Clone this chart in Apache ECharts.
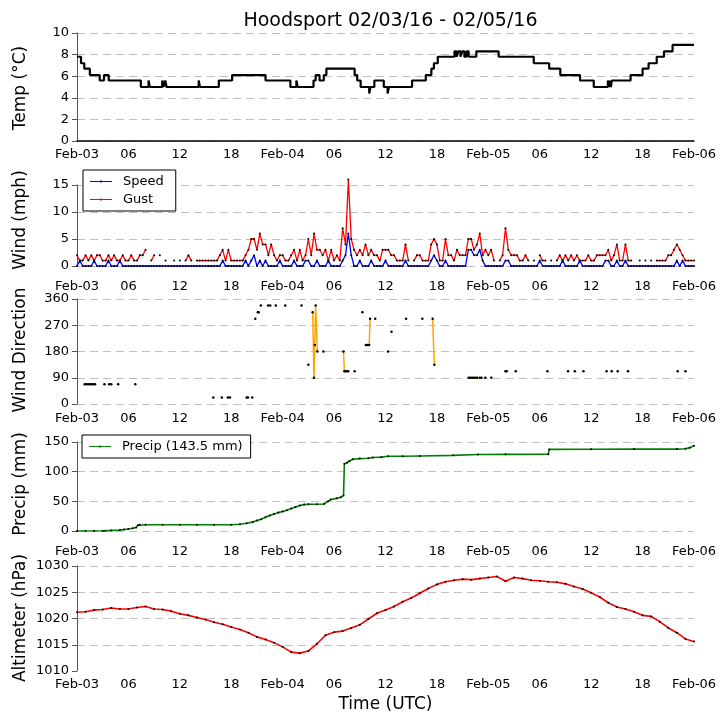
<!DOCTYPE html>
<html>
<head>
<meta charset="utf-8">
<script src="https://cdn.jsdelivr.net/npm/echarts@6/dist/echarts.min.js"></script>
<style>
html, body { margin: 0; padding: 0; background: #fff; }
#chart { width: 726px; height: 725px; }
</style>
</head>
<body>
<div id="chart"></div>
<script>
// hours since Feb-03 00:00 UTC
const xTickLabels = ['Feb-03', '06', '12', '18', 'Feb-04', '06', '12', '18', 'Feb-05', '06', '12', '18', 'Feb-06'];

// temperature change points (value holds until next point)
const tempHours = [0, 0.47, 0.85, 1.5, 2.65, 3.15, 3.7, 7.45, 8.35, 8.5, 9.95, 10.1, 10.3, 10.45, 14.2, 14.35,
    16.55, 18.1, 22.0, 24.9, 25.6, 25.75, 27.6, 27.85, 28.3, 28.8, 29.1, 32.4, 32.7, 33.1, 34.1, 34.25,
    34.7, 35.8, 36.25, 36.4, 39.1, 40.7, 41.35, 41.65, 42.1, 44.05, 44.3, 44.5, 44.75, 44.95, 45.2,
    45.45, 45.7, 46.6, 49.2, 53.3, 55.1, 56.4, 58.7, 60.3, 61.95, 62.1, 62.2, 62.3, 62.4, 64.6, 66.0,
    66.7, 67.65, 68.5, 69.5, 72];
const tempValues = [7.8, 7.2, 6.7, 6.1, 5.6, 6.1, 5.6, 5.0, 5.6, 5.0, 5.6, 5.0, 5.6, 5.0, 5.6, 5.0,
    5.6, 6.1, 5.6, 5.0, 5.6, 5.0, 5.6, 6.1, 5.6, 6.1, 6.7, 6.1, 5.6, 5.0, 4.4, 5.0,
    5.6, 5.0, 4.4, 5.0, 5.6, 6.1, 6.7, 7.2, 7.8, 8.3, 7.8, 8.3, 7.8, 8.3, 7.8,
    8.3, 7.8, 8.3, 7.8, 7.2, 6.7, 6.1, 5.6, 5.0, 5.6, 5.0, 5.6, 5.0, 5.6, 6.1, 6.7,
    7.2, 7.8, 8.3, 8.9, 8.9];

// wind, one reading every 20 minutes (null = missing)
const windStep = 1 / 3;
const windSpeed = [
    0, 1, 0, 0, 0, 0,  1, 0, 0, 0, 0, 1,  0, 0, 0, 1, 0, 0,  0, 0, 0, 0, 0, 0,
    0, 0, 0, 0, 0, 0,  0, 0, 0, 0, 0, 0,  0, 0, 0, 0, 0, 0,  0, 0, 0, 0, 0, 0,
    0, 0, 0, 1, 0, 0,  0, 0, 0, 0, 0, 1,  0, 1, 2, 0, 1, 0,  1, 0, 0, 0, 0, 1,
    0, 0, 0, 0, 1, 0,  0, 0, 1, 1, 0, 0,  1, 0, 0, 0, 1, 0,  0, 0, 0, 1, 2, 6,
    2, 0, 0, 1, 0, 0,  0, 1, 0, 0, 0, 0,  1, 0, 0, 0, 0, 0,  0, 1, 0, 0, 0, 0,
    0, 0, 0, 0, 1, 2,  1, 0, 0, 1, 0, 0,  0, 0, 0, 0, 0, 3,  3, 2, 2, 3, 1, 0,
    0, 0, 0, 0, 0, 0,  1, 1, 0, 0, 0, 0,  0, 0, 0, 0, 0, 0,  1, 0, 0, 0, 0, 0,
    0, 0, 1, 0, 0, 0,  0, 0, 1, 0, 0, 0,  0, 0, 0, 0, 0, 1,  1, 0, 0, 1, 0, 0,
    1, 0, 0, 0, 0, 0,  0, 0, 0, 0, 0, 0,  0, 0, 0, 0, 0, 0,  1, 0, 1, 0, 0, 0,
    0];
const windGust = [
    2, 1, 1, 2, 1, 2,  1, 2, 2, 1, 1, 2,  1, 2, 1, 1, 2, 1,  1, 2, 1, 1, 2, 2,
    3, null, 1, 2, null, 2,  null, 1, null, null, 1, null,  1, null, 1, 2, 1, null,  1, 1, 1, 1, 1, 1,
    1, 1, 2, 3, 1, 3,  1, 1, 1, 1, 1, 2,  3, 5, 5, 3, 6, 4,  4, 2, 4, 2, 1, 2,
    2, 1, 1, 2, 3, 1,  3, 1, 2, 5, 2, 6,  3, 3, 2, 3, 1, 3,  1, 2, 1, 7, 4, 16,
    5, 3, 2, 3, 2, 4,  2, 3, 2, 2, 1, 3,  3, 3, 2, 2, 1, 1,  1, 4, 1, null, 1, 2,
    2, 1, 1, 1, 4, 5,  4, 1, 1, 5, 2, 2,  1, 3, 2, 2, 2, 5,  5, 3, 4, 6, 2, 3,
    2, 3, 1, null, 1, 2,  7, 3, 2, 2, 2, 1,  1, 2, 1, null, 1, null,  2, 1, 1, null, 1, null,
    1, 2, 1, 2, 1, 2,  1, 2, 1, 1, 1, 2,  1, 1, 2, 2, 2, 2,  3, 1, 2, 4, 1, 1,
    4, 1, 1, null, null, 1,  null, 1, null, 1, null, 1,  1, 1, 1, 2, 2, 3,  4, 3, 2, 1, 1, 1,
    1];

// wind direction readings (null = break in the record)
const wdirHours = [0.9, 1.1, 1.3, 1.5, 1.7, 1.9, 2.1, null, 3.2, null, 3.75, null, 4.0, null, 4.8, null, 6.8, null,
    15.9, null, 16.9, null, 17.6, 17.85, null, 19.8, 19.95, null, 20.45, null, 20.8, null, 21.1, 21.2, null,
    21.45, null, 22.3, null, 22.55, null, 23.2, null, 24.3, null, 26.2, null, 27.0, null,
    27.5, 27.65, 27.75, 27.85, 28.05, null, 28.75, null, 31.1, 31.2, 31.35, 31.5, 31.65, null, 32.4, null,
    33.3, null, 33.7, 33.9, 34.1, 34.2, null, 34.8, null, 36.3, null, 36.7, null, 38.4, null, 40.3, null,
    41.5, 41.7, null, 45.7, 45.9, 46.1, 46.3, 46.5, 46.7, 47.0, 47.2, null, 47.65, null, 48.35, null,
    50.0, 50.15, null, 51.2, null, 54.9, null, 57.3, null, 58.1, null, 59.1, null, 61.8, null, 62.4, null,
    63.1, null, 64.3, null, 70.1, null, 71.0];
const wdirDeg = [67.5, 67.5, 67.5, 67.5, 67.5, 67.5, 67.5, null, 67.5, null, 67.5, null, 67.5, null, 67.5, null, 67.5, null,
    22.5, null, 22.5, null, 22.5, 22.5, null, 22.5, 22.5, null, 22.5, null, 292.5, null, 315, 315, null,
    337.5, null, 337.5, null, 337.5, null, 337.5, null, 337.5, null, 337.5, null, 135, null,
    315, 90, 202.5, 337.5, 180, null, 180, null, 180, 112.5, 112.5, 112.5, 112.5, null, 112.5, null,
    315, null, 202.5, 202.5, 202.5, 292.5, null, 292.5, null, 180, null, 247.5, null, 292.5, null, 292.5, null,
    292.5, 135, null, 90, 90, 90, 90, 90, 90, 90, 90, null, 90, null, 90, null,
    112.5, 112.5, null, 112.5, null, 112.5, null, 112.5, null, 112.5, null, 112.5, null, 112.5, null, 112.5, null,
    112.5, null, 112.5, null, 112.5, null, 112.5];

// accumulated precipitation
const precipHours = [0, 1, 2, 3, 3.3, 4, 5, 5.5, 6, 6.5, 6.9, 7.1, 7.3, 8, 10, 12, 14, 16, 18, 19, 19.8,
    20.5, 21, 21.5, 22, 22.5, 23, 23.5, 24, 24.5, 25, 25.5, 26, 26.5, 27, 28, 28.8, 29.3, 29.6, 30.3,
    30.8, 31.1, 31.2, 31.5, 31.8, 32.2, 33, 34, 34.5, 35.5, 36.3, 38, 40, 43.9, 46.8, 50, 55, 55.1, 60,
    65, 70, 71, 71.5, 72];
const precipValues = [0, 0, 0, 0, 0.5, 1, 1.5, 2.5, 3.5, 4.5, 6, 9.5, 10.5, 10.5, 10.5, 10.5, 10.5, 10.5, 10.5, 11.5, 13,
    15, 17.5, 20, 23, 26, 28.5, 31, 33, 35, 38, 40.5, 43, 44.5, 45, 45, 45.5, 50, 53, 55,
    57, 60, 113.5, 115, 118, 121, 122, 122.5, 124, 124.5, 126, 126, 126.5, 127.5, 129, 129.2, 129.5, 137.5, 137.8,
    138, 138, 138.5, 140.5, 143.5];

// altimeter, hourly from Feb-03 00 to Feb-06 00
const altValues = [1021.2, 1021.3, 1021.6, 1021.7, 1022.0, 1021.8, 1021.8, 1022.1, 1022.3, 1021.8, 1021.7, 1021.4,
    1020.9, 1020.6, 1020.2, 1019.8, 1019.3, 1018.9, 1018.4, 1017.9, 1017.3, 1016.5, 1016.0, 1015.4,
    1014.6, 1013.6, 1013.4, 1013.8, 1015.2, 1016.8, 1017.4, 1017.6, 1018.2, 1018.8, 1019.9, 1021.0,
    1021.6, 1022.3, 1023.2, 1023.9, 1024.8, 1025.7, 1026.5, 1027.0, 1027.3, 1027.5, 1027.4, 1027.6,
    1027.8, 1028.0, 1027.1, 1027.8, 1027.6, 1027.3, 1027.2, 1027.0, 1026.9, 1026.6, 1026.1, 1025.6,
    1024.9, 1024.1, 1023.0, 1022.2, 1021.8, 1021.3, 1020.6, 1020.4, 1019.4, 1018.2, 1017.3, 1016.1,
    1015.6];

const precipTotal = precipValues[precipValues.length - 1];
const precipName = 'Precip (' + precipTotal.toFixed(1) + ' mm)';

let pairs = function(xs, ys) {
    return xs.map((x, i) => (x === null || ys[i] === null) ? [NaN, '-'] : [x, ys[i]]);
}
let stepped = function(vals, step) {
    return vals.map((v, i) => [i * step, v === null ? '-' : v]);
}

const font = 'DejaVu Sans';

// one entry per panel: plot box (labelled range), y range and step, x label margin
const panels = [
    { top: 33, height: 108, min: 0, max: 10, step: 2, labelGap: 7, name: 'Temp (°C)', nameY: 88 },
    { top: 185, height: 81, min: 0, max: 15, step: 5, labelGap: 14, name: 'Wind (mph)', nameY: 220 },
    { top: 299, height: 105, min: 0, max: 360, step: 90, labelGap: 8, name: 'Wind Direction', nameY: 350 },
    { top: 442, height: 89, min: 0, max: 150, step: 50, labelGap: 14, name: 'Precip (mm)', nameY: 484 },
    { top: 566, height: 105, min: 1010, max: 1030, step: 5, labelGap: 7, name: 'Altimeter (hPa)', nameY: 618, plain: true },
];

const legendIcon = 'path://M0,0.4h24v1.2h-24z M11,0h2v2h-2z';

let yAxisFor = function(p, i) {
    const axis = {
        type: 'value',
        gridIndex: i,
        min: p.min,
        max: p.max,
        interval: p.step,
        axisLabel: { fontSize: 13, color: '#000', fontFamily: font },
        splitLine: { show: true, lineStyle: { type: [8, 5], color: '#c0c0c0' } },
    };
    if (p.plain) {
        // no thousands separator, and no grid line on the bottom edge
        axis.axisLabel.formatter = v => String(v);
        axis.splitLine.showMinLine = false;
    }
    return axis;
}

const chart = echarts.init(document.getElementById('chart'));

const option = {
    animation: false,
    title: {
        text: 'Hoodsport 02/03/16 - 02/05/16',
        left: 385.5,
        top: 7,
        textAlign: 'center',
        textStyle: { fontSize: 19, fontWeight: 'normal', color: '#000', fontFamily: font },
    },
    graphic: panels.map(p => ({
        type: 'text',
        x: 21,
        y: p.nameY,
        rotation: Math.PI / 2,
        silent: true,
        style: { text: p.name, fill: '#000', font: '17px "DejaVu Sans"', align: 'center', verticalAlign: 'middle' },
    })).concat([{
        type: 'text',
        x: 385.5,
        y: 705,
        silent: true,
        style: { text: 'Time (UTC)', fill: '#000', font: '17px "DejaVu Sans"', align: 'center', verticalAlign: 'middle' },
    }]),
    legend: [
        {
            data: [
                { name: 'Speed', icon: legendIcon, itemStyle: { color: '#0000ff' } },
                { name: 'Gust', icon: legendIcon, itemStyle: { color: '#ff0000' } },
            ],
            orient: 'vertical',
            left: 83,
            top: 170,
            padding: [5, 12, 5, 7],
            itemGap: 5,
            itemWidth: 22,
            itemHeight: 3,
            borderColor: '#000',
            borderWidth: 1,
            borderRadius: 0,
            backgroundColor: '#fff',
            textStyle: { fontSize: 13, color: '#000', fontFamily: font, padding: [0, 0, 0, 6] },
        },
        {
            data: [{ name: precipName, icon: legendIcon, itemStyle: { color: '#008000' } }],
            orient: 'vertical',
            left: 82,
            top: 435,
            padding: [5, 8, 5, 7],
            itemWidth: 22,
            itemHeight: 3,
            borderColor: '#000',
            borderWidth: 1,
            borderRadius: 0,
            backgroundColor: '#fff',
            textStyle: { fontSize: 13, color: '#000', fontFamily: font, padding: [0, 0, 0, 6] },
        },
    ],
    grid: panels.map(p => ({ left: 77, right: 32, top: p.top, height: p.height })),
    xAxis: panels.map((p, i) => ({
        type: 'value',
        gridIndex: i,
        min: 0,
        max: 72,
        interval: 6,
        axisLine: { show: i === 0, onZero: false, lineStyle: { color: '#000', width: 1.5 } },
        axisTick: { show: false },
        splitLine: { show: false },
        axisLabel: {
            margin: p.labelGap,
            fontSize: 13,
            color: '#000',
            fontFamily: font,
            formatter: v => xTickLabels[Math.round(v / 6)],
        },
    })),
    yAxis: panels.map(yAxisFor),
    series: [
        {
            name: 'Temp',
            type: 'line',
            xAxisIndex: 0,
            yAxisIndex: 0,
            step: 'end',
            symbol: 'none',
            lineStyle: { color: '#000', width: 2.2 },
            data: pairs(tempHours, tempValues),
        },
        {
            name: 'Gust',
            type: 'line',
            xAxisIndex: 1,
            yAxisIndex: 1,
            clip: false,
            symbol: 'circle',
            symbolSize: 2,
            itemStyle: { color: '#000' },
            lineStyle: { color: '#ff0000', width: 1.3 },
            data: stepped(windGust, windStep),
        },
        {
            name: 'Speed',
            type: 'line',
            xAxisIndex: 1,
            yAxisIndex: 1,
            clip: false,
            symbol: 'circle',
            symbolSize: 2,
            itemStyle: { color: '#000' },
            lineStyle: { color: '#0000ff', width: 1.3 },
            data: stepped(windSpeed, windStep),
        },
        {
            name: 'Wind Direction',
            type: 'line',
            xAxisIndex: 2,
            yAxisIndex: 2,
            symbol: 'circle',
            symbolSize: 2.5,
            itemStyle: { color: '#000' },
            lineStyle: { color: '#ffa500', width: 1.5 },
            data: pairs(wdirHours, wdirDeg),
        },
        {
            name: precipName,
            type: 'line',
            xAxisIndex: 3,
            yAxisIndex: 3,
            symbol: 'circle',
            symbolSize: 2,
            itemStyle: { color: '#000' },
            lineStyle: { color: '#008000', width: 1.6 },
            data: pairs(precipHours, precipValues),
        },
        {
            name: 'Altimeter',
            type: 'line',
            xAxisIndex: 4,
            yAxisIndex: 4,
            symbol: 'circle',
            symbolSize: 2,
            itemStyle: { color: '#000' },
            lineStyle: { color: '#ff0000', width: 1.6 },
            data: altValues.map((v, i) => [i, v]),
        },
    ],
};

chart.setOption(option);
</script>
</body>
</html>
